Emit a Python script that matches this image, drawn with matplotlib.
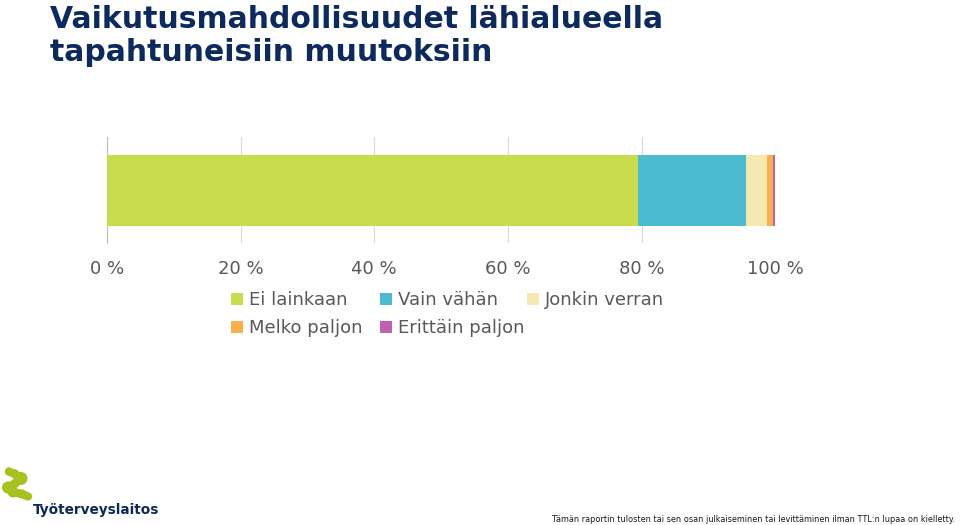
import matplotlib
matplotlib.use("Agg")
import matplotlib.pyplot as plt
from matplotlib.patches import Patch, Circle

categories = ["Ei lainkaan", "Vain vähän", "Jonkin verran", "Melko paljon", "Erittäin paljon"]
values = [79.5, 16.2, 3.1, 0.8, 0.4]
colors = ["#C9DD4C", "#4DBBCF", "#F5E9B2", "#F7B04A", "#C060B0"]
ticks = [0, 20, 40, 60, 80, 100]
tick_labels = ["0 %", "20 %", "40 %", "60 %", "80 %", "100 %"]

fig = plt.figure(figsize=(9.6, 5.25), dpi=100)
fig.patch.set_facecolor("white")

ax = fig.add_axes([0.1115, 0.537, 0.696, 0.202])
left = 0
for v, c, lab in zip(values, colors, categories):
    ax.barh(0, v, left=left, height=0.67, color=c, label=lab, zorder=3)
    left += v

ax.set_xlim(0, 100)
ax.set_ylim(-0.5, 0.5)
ax.set_yticks([])
ax.set_xticks(ticks)
ax.set_xticklabels(tick_labels, fontsize=13, color="#595959")
ax.tick_params(axis="x", length=0, pad=12)
ax.grid(axis="x", color="#D9D9D9", linewidth=0.8, zorder=0)
for s in ["top", "right", "bottom"]:
    ax.spines[s].set_visible(False)
ax.spines["left"].set_color("#BFBFBF")

# legend laid out as three columns, placed one by one
columns = [[0, 3], [1, 4], [2]]
col_x = [0.237, 0.392, 0.545]
for idx, x0 in zip(columns, col_x):
    hs = [Patch(facecolor=colors[i], label=categories[i]) for i in idx]
    fig.legend(handles=hs, loc="upper left", bbox_to_anchor=(x0, 0.452),
               ncol=1, frameon=False, fontsize=13, labelcolor="#595959",
               handlelength=0.65, handleheight=0.65, handletextpad=0.35,
               labelspacing=0.55, borderpad=0.2, borderaxespad=0.0)

# title
fig.text(0.052, 0.99, "Vaikutusmahdollisuudet lähialueella\ntapahtuneisiin muutoksiin",
         ha="left", va="top", fontsize=21.5, fontweight="bold", color="#0D2A5E",
         linespacing=1.15)

# logo (approximate)
lax = fig.add_axes([0.0, 0.0, 0.2, 0.14])
lax.set_xlim(0, 192)
lax.set_ylim(73.5, 0)
lax.axis("off")
blobs = [(9, 20, 4), (15, 22.5, 4.5), (21, 27, 6.5), (15, 32, 4.5),
         (8, 36, 6), (13, 40.5, 5.5), (22, 42.5, 4.5), (28, 45, 3)]
lax.plot([b[0] for b in blobs], [b[1] for b in blobs], color="#A6C21E",
         linewidth=6, solid_capstyle="round", solid_joinstyle="round")
for cx, cy, r in blobs:
    lax.add_patch(Circle((cx, cy), r, facecolor="#A6C21E", edgecolor="none"))
fig.text(0.034, 0.028, "Työterveyslaitos", ha="left", va="center", fontsize=9.8,
         color="#0D2A5E", fontweight="semibold")

fig.text(0.995, 0.002,
         "Tämän raportin tulosten tai sen osan julkaiseminen tai levittäminen ilman TTL:n lupaa on kielletty.",
         ha="right", va="bottom", fontsize=5.9, color="#1a1a1a")

fig.savefig("out.png", dpi=100, facecolor="white")
